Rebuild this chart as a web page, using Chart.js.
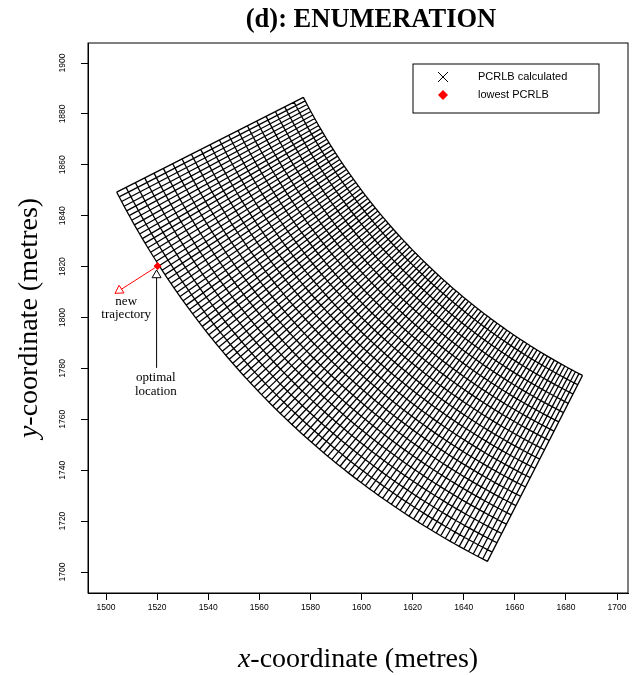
<!DOCTYPE html>
<html>
<head>
<meta charset="utf-8">
<script src="https://cdn.jsdelivr.net/npm/chart.js@4.4.1/dist/chart.umd.min.js"></script>
<style>
  body { margin: 0; background: #fff; }
  #wrap { position: relative; width: 636px; height: 675px; }
</style>
</head>
<body>
<div id="wrap"><canvas id="plot"></canvas></div>
<script>
// tick labels
const xTicks = [1500, 1520, 1540, 1560, 1580, 1600, 1620, 1640, 1660, 1680, 1700]
const yTicks = [1700, 1720, 1740, 1760, 1780, 1800, 1820, 1840, 1860, 1880, 1900]

// enumeration grid: range / bearing from the sensor position
const sensor = [1800, 2000]
const gridRanges = [250, 254.1, 258.2, 262.3, 266.4, 270.5, 274.6, 278.7, 282.8, 286.9, 291,
  295.1, 299.2, 303.3, 307.4, 311.5, 315.6, 319.7, 323.8, 327.9, 332]
const gridBearings = [207.00, 207.36, 207.72, 208.08, 208.44, 208.80, 209.16, 209.52, 209.88, 210.24,
  210.60, 210.96, 211.32, 211.68, 212.04, 212.40, 212.76, 213.12, 213.48, 213.84,
  214.20, 214.56, 214.92, 215.28, 215.64, 216.00, 216.36, 216.72, 217.08, 217.44,
  217.80, 218.16, 218.52, 218.88, 219.24, 219.60, 219.96, 220.32, 220.68, 221.04,
  221.40, 221.76, 222.12, 222.48, 222.84, 223.20, 223.56, 223.92, 224.28, 224.64,
  225.00, 225.36, 225.72, 226.08, 226.44, 226.80, 227.16, 227.52, 227.88, 228.24,
  228.60, 228.96, 229.32, 229.68, 230.04, 230.40, 230.76, 231.12, 231.48, 231.84,
  232.20, 232.56, 232.92, 233.28, 233.64, 234.00, 234.36, 234.72, 235.08, 235.44,
  235.80, 236.16, 236.52, 236.88, 237.24, 237.60, 237.96, 238.32, 238.68, 239.04,
  239.40, 239.76, 240.12, 240.48, 240.84, 241.20, 241.56, 241.92, 242.28, 242.64, 243.00]

// lowest PCRLB
const bestX = [1520.2]
const bestY = [1820.2]

// annotations (data coords)
const trajArrow = [1520.2, 1820.2, 1503.5, 1809.5]
const optArrow = [1519.8, 1780.2, 1519.8, 1818.7]
const noteTexts = [['new', 'trajectory'], ['optimal', 'location']]
const noteX = [1507.9, 1519.5]
const noteY = [1806.3, 1776.2]

const toXY = (r, b) => {
  const t = b * Math.PI / 180
  return { x: sensor[0] + r * Math.cos(t), y: sensor[1] + r * Math.sin(t) }
}

// mesh: arcs (constant range) and rays (constant bearing), gaps between lines
const mesh = []
gridRanges.forEach(r => {
  gridBearings.forEach(b => mesh.push(toXY(r, b)))
  mesh.push({ x: null, y: null })
})
gridBearings.forEach(b => {
  mesh.push(toXY(gridRanges[0], b))
  mesh.push(toXY(gridRanges[gridRanges.length - 1], b))
  mesh.push({ x: null, y: null })
})

const serif = '"Liberation Serif", "Times New Roman", serif'
const sans = '"Liberation Sans", Arial, sans-serif'

const drawArrow = (ctx, x0, y0, x1, y1, color) => {
  const ang = Math.atan2(y1 - y0, x1 - x0)
  const len = 9, spread = Math.PI / 6
  ctx.strokeStyle = color
  ctx.lineWidth = 1
  ctx.beginPath()
  ctx.moveTo(x0, y0)
  ctx.lineTo(x1, y1)
  ctx.stroke()
  ctx.beginPath()
  ctx.moveTo(x1, y1)
  ctx.lineTo(x1 - len * Math.cos(ang - spread), y1 - len * Math.sin(ang - spread))
  ctx.lineTo(x1 - len * Math.cos(ang + spread), y1 - len * Math.sin(ang + spread))
  ctx.closePath()
  ctx.fillStyle = '#fff'
  ctx.fill()
  ctx.stroke()
}

// italic letter followed by upright text, centred on (0,0)
const mathLabel = (ctx, letter, rest, size) => {
  ctx.font = `italic ${size}px ${serif}`
  const w1 = ctx.measureText(letter).width
  ctx.font = `${size}px ${serif}`
  const w2 = ctx.measureText(rest).width
  const start = -(w1 + w2) / 2
  ctx.textAlign = 'left'
  ctx.textBaseline = 'middle'
  ctx.font = `italic ${size}px ${serif}`
  ctx.fillText(letter, start, 0)
  ctx.font = `${size}px ${serif}`
  ctx.fillText(rest, start + w1, 0)
}

const decor = {
  id: 'decor',
  afterDraw(chart) {
    const { ctx, chartArea: a, scales: { x, y } } = chart
    ctx.save()
    ctx.fillStyle = '#000'

    // plot box
    ctx.strokeStyle = '#000'
    ctx.lineWidth = 1
    ctx.strokeRect(a.left, a.top, a.right - a.left, a.bottom - a.top)

    // y tick labels, vertical
    ctx.font = `8.5px ${sans}`
    ctx.textAlign = 'center'
    ctx.textBaseline = 'middle'
    yTicks.forEach(v => {
      ctx.save()
      ctx.translate(a.left - 25, y.getPixelForValue(v))
      ctx.rotate(-Math.PI / 2)
      ctx.fillText(String(v), 0, 0)
      ctx.restore()
    })

    // title
    ctx.font = `bold 26.5px ${serif}`
    ctx.textAlign = 'center'
    ctx.textBaseline = 'middle'
    ctx.fillText('(d): ENUMERATION', 371, 20)

    // axis titles
    ctx.save()
    ctx.translate((a.left + a.right) / 2, 660)
    mathLabel(ctx, 'x', '-coordinate (metres)', 28)
    ctx.restore()
    ctx.save()
    ctx.translate(30, (a.top + a.bottom) / 2)
    ctx.rotate(-Math.PI / 2)
    mathLabel(ctx, 'y', '-coordinate (metres)', 28)
    ctx.restore()

    // arrows
    drawArrow(ctx, x.getPixelForValue(trajArrow[0]), y.getPixelForValue(trajArrow[1]),
      x.getPixelForValue(trajArrow[2]), y.getPixelForValue(trajArrow[3]), '#ff0000')
    drawArrow(ctx, x.getPixelForValue(optArrow[0]), y.getPixelForValue(optArrow[1]),
      x.getPixelForValue(optArrow[2]), y.getPixelForValue(optArrow[3]), '#000')

    // notes
    ctx.fillStyle = '#000'
    ctx.font = `13px ${serif}`
    ctx.textAlign = 'center'
    ctx.textBaseline = 'middle'
    noteTexts.forEach((lines, i) => {
      const px = x.getPixelForValue(noteX[i])
      const py = y.getPixelForValue(noteY[i])
      lines.forEach((t, j) => ctx.fillText(t, px, py + j * 13.5))
    })

    // legend
    ctx.strokeStyle = '#000'
    ctx.lineWidth = 1
    ctx.strokeRect(413, 64, 186, 49)
    ctx.beginPath()
    ctx.moveTo(438, 72); ctx.lineTo(448, 82)
    ctx.moveTo(448, 72); ctx.lineTo(438, 82)
    ctx.stroke()
    ctx.fillStyle = '#ff0000'
    ctx.beginPath()
    ctx.moveTo(443, 90); ctx.lineTo(448, 95); ctx.lineTo(443, 100); ctx.lineTo(438, 95)
    ctx.closePath()
    ctx.fill()
    ctx.fillStyle = '#000'
    ctx.font = `11px ${sans}`
    ctx.textAlign = 'left'
    ctx.fillText('PCRLB calculated', 478, 77)
    ctx.fillText('lowest PCRLB', 478, 95)

    ctx.restore()
  }
}

new Chart(document.getElementById('plot'), {
  type: 'scatter',
  data: {
    datasets: [
      {
        label: 'lowest PCRLB',
        data: bestX.map((v, i) => ({ x: v, y: bestY[i] })),
        pointStyle: 'rectRot',
        pointRadius: 3.5,
        backgroundColor: '#ff0000',
        borderColor: '#ff0000',
        order: 0
      },
      {
        label: 'PCRLB calculated',
        data: mesh,
        showLine: true,
        spanGaps: false,
        pointRadius: 0,
        borderColor: '#000',
        borderWidth: 1.3,
        order: 1
      }
    ]
  },
  options: {
    responsive: true,
    maintainAspectRatio: false,
    animation: false,
    events: [],
    layout: { padding: { top: 43, right: 8, left: 0, bottom: 0 } },
    plugins: { legend: { display: false }, tooltip: { enabled: false } },
    scales: {
      x: {
        type: 'linear',
        min: 1492.95,
        max: 1704.3,
        afterBuildTicks: s => { s.ticks = xTicks.map(v => ({ value: v })) },
        afterFit: s => { s.height = 82 },
        grid: { drawOnChartArea: false, drawTicks: true, tickLength: 7, color: '#000' },
        border: { display: true, color: '#000' },
        ticks: {
          color: '#000', font: { family: sans, size: 8.5 }, padding: 3,
          maxRotation: 0, autoSkip: false, callback: v => String(v)
        }
      },
      y: {
        type: 'linear',
        min: 1691.75,
        max: 1907.86,
        afterBuildTicks: s => { s.ticks = yTicks.map(v => ({ value: v })) },
        afterFit: s => { s.width = 88 },
        grid: { drawOnChartArea: false, drawTicks: true, tickLength: 7, color: '#000' },
        border: { display: true, color: '#000' },
        ticks: { display: false }
      }
    }
  },
  plugins: [decor]
})
</script>
</body>
</html>
